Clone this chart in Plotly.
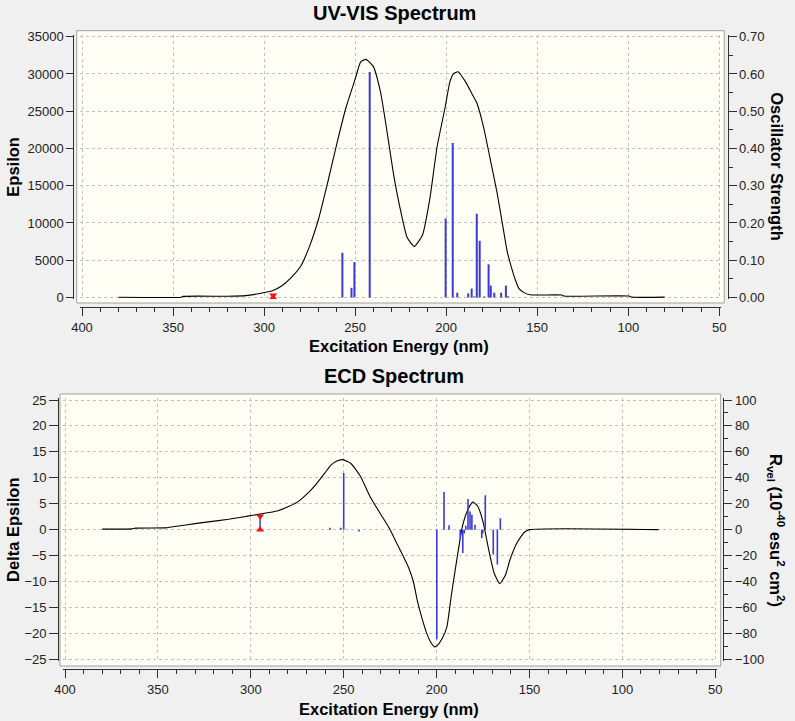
import plotly.graph_objects as go

W, H = 795, 721

# ---------------- data ----------------
uv_curve_nm = [380, 345.5, 344.5, 320, 310, 305, 300, 295, 290, 285, 280, 275, 270, 265, 260,
               255, 250, 247, 244, 240, 236, 232.5, 229, 225.5, 221.5, 217.5, 213, 209, 205,
               200.5, 198, 196, 193.5, 189, 186, 183, 179.5, 176, 172, 168.5, 166.5, 164, 162, 160,
               157, 154, 136.5, 135.5, 99.5, 98.5, 80]
uv_curve_eps = [30, 40, 150, 170, 250, 420, 670, 950, 1610, 2700, 4150, 6900, 10600, 15500, 20700,
                25500, 29300, 31600, 31960, 30980, 27500, 22300, 16700, 12200, 8100, 6850, 8400,
                13200, 20200, 25600, 28900, 30000, 30300, 28800, 27400, 26000, 22900, 18800, 14000,
                9000, 6200, 3900, 2350, 1200, 620, 360, 330, 200, 190, 60, 50]

uv_stick_nm = [257.0, 252.0, 250.4, 242.0, 200.3, 196.4, 193.9, 187.9, 186.0, 184.6, 183.2,
               181.6, 179.0, 176.7, 175.5, 173.6, 169.8, 167.2, 166.0]
uv_stick_f = [0.120, 0.026, 0.095, 0.605, 0.212, 0.415, 0.013, 0.011, 0.024, 0.003, 0.225,
              0.152, 0.003, 0.089, 0.032, 0.013, 0.013, 0.032, 0.003]

ecd_curve_nm = [380, 364, 362, 346, 343, 335, 325, 312, 300, 290, 285, 280, 275, 270, 265, 260,
                257, 254, 250.5, 246, 241, 236, 230.5, 225, 221.5, 218, 215, 212.5, 210.5, 208.5,
                205.5, 203, 201, 199.5, 197, 194.5, 192, 189, 186, 183, 180.5, 178, 175, 172,
                169, 166, 163, 160.5, 157, 153, 150, 80.5]
ecd_curve_de = [0.1, 0.15, 0.3, 0.35, 0.5, 0.9, 1.4, 2.0, 2.7, 3.3, 3.7, 4.4, 5.3, 6.8, 8.7, 11.0,
                12.4, 13.2, 13.5, 12.7, 10.3, 6.5, 3.2, 0.0, -2.6, -5.1, -7.4, -10.0, -13.5, -16.3,
                -19.8, -21.8, -22.6, -22.3, -21.0, -18.8, -12.5, -5.5, 0.8, 4.0, 5.3, 4.6, 1.5,
                -3.8, -8.4, -10.4, -8.8, -5.8, -2.7, -0.6, 0.0, 0.0]

ecd_stick_nm = [257.4, 251.6, 250.0, 241.7, 199.9, 196.0, 193.3, 187.3, 185.9, 185.1, 184.3,
                183.1, 182.0, 181.0, 179.3, 175.7, 175.2, 173.8, 169.5, 167.3, 165.7]
ecd_stick_r = [1.5, 1.5, 43.6, -1.5, -84.6, 29.0, 3.3, -7.5, -18.0, -3.0, 3.0,
               23.6, 14.0, 11.5, 3.8, -6.5, -3.0, 26.5, -19.2, -26.9, 8.8]

cursor_nm = 295
uv_cursor = [0, 300]
ecd_cursor = [0, 2.6]

x_ticks = [400, 350, 300, 250, 200, 150, 100, 50]
uv_eps_ticks = [0, 5000, 10000, 15000, 20000, 25000, 30000, 35000]
uv_f_ticks = [0.0, 0.1, 0.2, 0.3, 0.4, 0.5, 0.6, 0.7]
ecd_de_ticks = [-25, -20, -15, -10, -5, 0, 5, 10, 15, 20, 25]
ecd_r_ticks = [-100, -80, -60, -40, -20, 0, 20, 40, 60, 80, 100]

# ---------------- geometry helpers ----------------
def fx(px):
    return px / W


def fy(py):
    return 1 - py / H


def panel(x400, x50, ylo_px, yhi_px, ylo, yhi, pad=1.6):
    sx = (x50 - x400) / 350.0
    sy = (ylo_px - yhi_px) / (yhi - ylo)
    xdom = [fx(x400 - pad), fx(x50 + pad)]
    xrng = [400 + pad / sx, 50 - pad / sx]
    ydom = [fy(ylo_px + pad), fy(yhi_px - pad)]
    yrng = [ylo - pad / sy, yhi + pad / sy]
    return xdom, xrng, ydom, yrng


xd1, xr1, yd1, yr1 = panel(82.0, 719.3, 297.5, 36.7, 0, 35000)
xd2, xr2, yd2, yr2 = panel(65.0, 715.3, 659.3, 400.0, -25, 25)
y2r1 = [v / 50000.0 for v in yr1]
y4r2 = [v * 4.0 for v in yr2]


def sticks(xs, ys):
    sx, sy = [], []
    for a, b in zip(xs, ys):
        sx += [a, a, None]
        sy += [0, b, None]
    return sx, sy


FONT = "Liberation Sans"
AX = "#303030"
GRID = "#c2c2c2"
BG = "#fffff5"
STICK = "#3a3ad8"
tickfont = dict(family=FONT, size=13, color="#222222")

fig = go.Figure()

# UV-VIS
usx, usy = sticks(uv_stick_nm, uv_stick_f)
fig.add_trace(go.Scatter(x=uv_curve_nm, y=uv_curve_eps, mode="lines", xaxis="x", yaxis="y",
                         line=dict(color="black", width=1.1, shape="spline", smoothing=0.5),
                         hoverinfo="skip", showlegend=False))
fig.add_trace(go.Scatter(x=[cursor_nm, cursor_nm], y=uv_cursor, mode="lines", xaxis="x", yaxis="y",
                         line=dict(color=STICK, width=1.5), hoverinfo="skip", showlegend=False))
fig.add_trace(go.Scatter(x=[cursor_nm, cursor_nm], y=uv_cursor, mode="markers", xaxis="x", yaxis="y",
                         marker=dict(symbol=["triangle-up", "triangle-down"], size=7, color="#ff1010"),
                         hoverinfo="skip", showlegend=False))
fig.add_trace(go.Scatter(x=usx, y=usy, mode="lines", xaxis="x", yaxis="y2",
                         line=dict(color=STICK, width=2), hoverinfo="skip", showlegend=False))

# ECD
esx, esy = sticks(ecd_stick_nm, ecd_stick_r)
fig.add_trace(go.Scatter(x=ecd_curve_nm, y=ecd_curve_de, mode="lines", xaxis="x2", yaxis="y3",
                         line=dict(color="black", width=1.1, shape="spline", smoothing=0.5),
                         hoverinfo="skip", showlegend=False))
fig.add_trace(go.Scatter(x=[cursor_nm, cursor_nm], y=ecd_cursor, mode="lines", xaxis="x2", yaxis="y3",
                         line=dict(color=STICK, width=1.5), hoverinfo="skip", showlegend=False))
fig.add_trace(go.Scatter(x=[cursor_nm, cursor_nm], y=ecd_cursor, mode="markers", xaxis="x2", yaxis="y3",
                         marker=dict(symbol=["triangle-up", "triangle-down"], size=7, color="#ff1010"),
                         hoverinfo="skip", showlegend=False))
fig.add_trace(go.Scatter(x=esx, y=esy, mode="lines", xaxis="x2", yaxis="y4",
                         line=dict(color=STICK, width=1.6), hoverinfo="skip", showlegend=False))


def xaxis(dom, rng, pos):
    return dict(domain=dom, range=rng, anchor="free", position=pos, showline=True, linecolor=AX,
                linewidth=1, ticks="outside", ticklen=8, tickcolor=AX, tickvals=x_ticks,
                minor=dict(dtick=10, ticks="outside", ticklen=4, tickcolor=AX, showgrid=False),
                showgrid=True, gridcolor=GRID, griddash="3px,3px", gridwidth=1, zeroline=False,
                tickfont=tickfont, fixedrange=True, automargin=False)


def yleft(dom, rng, pos, vals, tl):
    return dict(domain=dom, range=rng, anchor="free", position=pos, side="left", showline=True,
                linecolor=AX, linewidth=1, ticks="outside", ticklen=tl, tickcolor=AX, tickvals=vals,
                tickformat="d",
                showgrid=True, gridcolor=GRID, griddash="3px,3px", gridwidth=1, zeroline=False,
                tickfont=tickfont, fixedrange=True, automargin=False)


def yright(over, rng, pos, vals, mdt, fmt):
    return dict(overlaying=over, range=rng, anchor="free", position=pos, side="right", showline=True,
                linecolor=AX, linewidth=1, ticks="outside", ticklen=8, tickcolor=AX, tickvals=vals,
                tickformat=fmt,
                minor=dict(dtick=mdt, ticks="outside", ticklen=4, tickcolor=AX, showgrid=False),
                showgrid=False, zeroline=False, tickfont=tickfont, fixedrange=True, automargin=False)


title_font = dict(family=FONT, size=20, color="black", weight="bold")
axt_font = dict(family=FONT, size=16.5, color="black", weight="bold")


def ann(text, px, py, font, angle=0):
    return dict(text=text, x=fx(px), y=fy(py), xref="paper", yref="paper", showarrow=False,
                xanchor="center", yanchor="middle", font=font, textangle=angle)


fig.update_layout(
    width=W, height=H, margin=dict(l=0, r=0, t=0, b=0, autoexpand=False),
    paper_bgcolor="#f0f0f0", plot_bgcolor=BG, hovermode=False,
    xaxis=xaxis(xd1, xr1, fy(307.3)),
    yaxis=yleft(yd1, yr1, fx(73.3), uv_eps_ticks, 7),
    yaxis2=yright("y", y2r1, fx(727.5), uv_f_ticks, 0.05, ".2f"),
    xaxis2=xaxis(xd2, xr2, fy(669.3)),
    yaxis3=yleft(yd2, yr2, fx(58.2), ecd_de_ticks, 9),
    yaxis4=yright("y3", y4r2, fx(723.3), ecd_r_ticks, 10, "d"),
    shapes=[
        dict(type="rect", xref="paper", yref="paper", x0=fx(76.7), x1=fx(724.3), y0=fy(303.0),
             y1=fy(30.7), fillcolor=BG, line=dict(color="#a0a0a0", width=1), layer="below"),
        dict(type="rect", xref="paper", yref="paper", x0=fx(60.0), x1=fx(720.7), y0=fy(666.0),
             y1=fy(394.0), fillcolor=BG, line=dict(color="#a0a0a0", width=1), layer="below"),
    ],
    annotations=[
        ann("UV-VIS Spectrum", 394.7, 13.5, title_font),
        ann("ECD Spectrum", 394.0, 376.0, title_font),
        ann("Excitation Energy (nm)", 399.3, 346.0, axt_font),
        ann("Excitation Energy (nm)", 389.0, 708.5, axt_font),
        ann("Epsilon", 13.0, 166.7, axt_font, -90),
        ann("Delta Epsilon", 13.0, 530.0, axt_font, -90),
        ann("Oscillator Strength", 777.5, 166.7, axt_font, 90),
        ann("R<sub>vel</sub> (10<sup>-40</sup> esu<sup>2</sup> cm<sup>2</sup>)", 776.0, 530.0,
            axt_font, 90),
    ],
)

fig.write_html(
    "out.html",
    config={"displayModeBar": False, "staticPlot": True},
    post_script="document.body.style.margin='0';document.body.style.padding='0';"
                "document.body.style.background='#f0f0f0';",
)
